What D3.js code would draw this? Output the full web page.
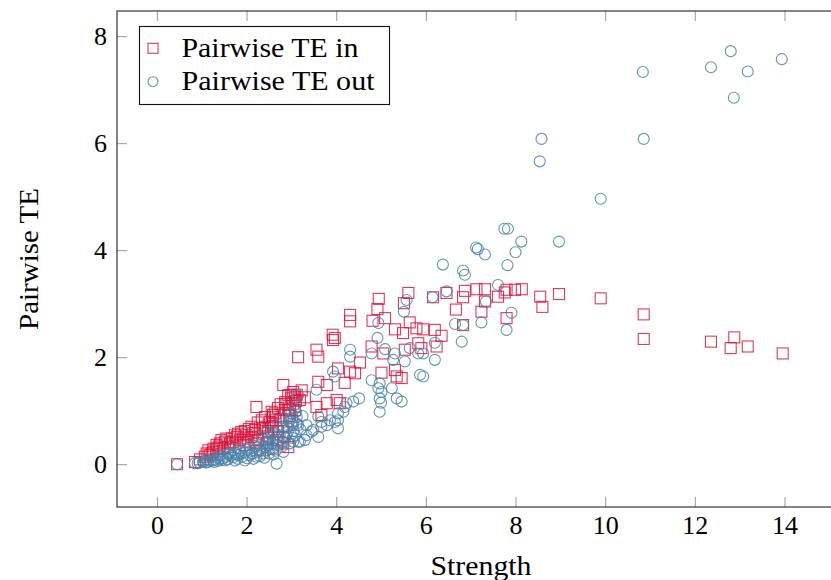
<!DOCTYPE html>
<html>
<head>
<meta charset="utf-8">
<script src="https://cdn.jsdelivr.net/npm/d3@7"></script>
<style>
  html, body { margin: 0; padding: 0; background: #fff; }
  svg { display: block; }
</style>
</head>
<body>
<div id="chart"></div>
<script>
// values: [strength, pairwise TE]
const teIn = [
  [0.45,0.00],[0.85,0.04],[0.96,0.09],[1.07,0.14],[1.11,0.20],[1.18,0.17],[1.25,0.23],[1.26,0.29],
  [1.33,0.29],[1.33,0.36],[1.41,0.39],[1.44,0.45],[1.52,0.42],[1.59,0.32],[1.63,0.39],[1.67,0.48],
  [1.74,0.54],[1.78,0.51],[1.81,0.57],[1.85,0.45],[1.93,0.48],[2.00,0.54],[2.04,0.42],[2.11,0.51],
  [2.11,0.70],[2.19,0.64],[2.22,1.07],[2.26,0.45],[2.30,0.26],[2.30,0.67],[2.37,0.67],[2.41,0.70],
  [2.41,0.88],[2.45,0.39],[2.52,0.79],[2.56,0.76],[2.56,0.98],[2.59,0.29],[2.59,0.70],[2.59,0.88],
  [2.59,0.92],[2.63,0.95],[2.67,0.45],[2.74,0.82],[2.82,0.39],[2.82,0.51],[2.82,0.70],[2.82,1.48],
  [2.86,1.01],[2.86,1.16],[2.89,1.13],[2.93,0.32],[2.93,1.04],[2.93,1.29],[2.97,1.01],[3.00,1.23],
  [3.00,1.29],[3.04,1.13],[3.04,1.35],[3.08,1.01],[3.08,1.26],[3.19,1.20],[3.23,1.38],[3.15,2.00],
  [3.30,1.25],[3.56,1.07],[3.56,2.14],[3.60,1.54],[3.60,2.01],[3.67,0.92],[3.79,1.14],[3.79,1.48],
  [3.92,2.42],[3.93,2.32],[3.97,2.36],[4.01,1.20],[4.04,1.79],[4.08,1.14],[4.19,1.52],[4.31,1.73],
  [4.31,2.67],[4.31,2.79],[4.42,1.70],[4.53,1.90],[4.79,2.20],[4.81,2.68],[4.92,2.90],[4.95,3.09],
  [5.01,1.71],[5.05,2.07],[5.09,2.73],[5.31,1.76],[5.31,2.52],[5.35,1.64],[5.46,1.61],[5.49,2.45],
  [5.51,3.01],[5.53,2.14],[5.61,3.20],[5.64,2.65],[5.79,2.54],[5.83,2.26],[5.90,2.17],[5.94,2.52],
  [6.16,3.12],[6.20,2.51],[6.24,2.20],[6.35,2.40],[6.46,3.20],[6.67,2.89],[6.83,2.60],[6.83,3.12],
  [6.87,3.24],[7.13,3.27],[7.24,2.85],[7.32,3.04],[7.32,3.27],[7.61,3.13],[7.76,3.21],[7.80,2.73],
  [7.80,3.26],[7.99,3.26],[8.14,3.27],[8.55,3.13],[8.60,2.94],[8.97,3.18],[9.90,3.10],[10.86,2.80],
  [10.86,2.34],[12.36,2.29],[12.80,2.17],[12.88,2.37],[13.18,2.20],[13.96,2.07],
  [1.15,0.26],[1.22,0.20],[1.38,0.33],[1.48,0.30],[1.55,0.48],[1.70,0.42],[1.88,0.60],[1.96,0.62],
  [2.05,0.66],[2.15,0.58],[2.25,0.78],[2.34,0.82],[2.48,0.62],[2.65,0.82],[2.70,1.05],[2.76,1.12],
  [2.95,0.90],[3.02,0.80],[3.10,1.18],[3.12,1.30],[2.70,0.62],[2.48,0.52],[2.20,0.40],[1.98,0.36]
];
const teOut = [
  [0.45,0.00],[0.85,0.02],[0.91,0.02],[0.95,0.03],[1.03,0.04],[1.05,0.05],[1.10,0.03],[1.14,0.04],
  [1.20,0.06],[1.25,0.07],[1.30,0.08],[1.36,0.06],[1.35,0.12],[1.41,0.17],[1.45,0.08],[1.47,0.11],
  [1.52,0.07],[1.55,0.14],[1.58,0.09],[1.63,0.21],[1.65,0.16],[1.70,0.13],[1.74,0.07],[1.74,0.22],
  [1.75,0.19],[1.81,0.17],[1.85,0.30],[1.90,0.14],[1.95,0.22],[1.96,0.07],[2.01,0.11],[2.07,0.17],
  [2.07,0.32],[2.10,0.25],[2.15,0.10],[2.22,0.14],[2.23,0.22],[2.30,0.15],[2.30,0.36],[2.36,0.49],
  [2.37,0.20],[2.40,0.32],[2.45,0.26],[2.45,0.60],[2.50,0.20],[2.52,0.29],[2.52,0.45],[2.55,0.55],
  [2.57,0.39],[2.59,0.30],[2.60,0.45],[2.65,0.25],[2.67,0.01],[2.70,0.36],[2.70,0.46],[2.74,0.54],
  [2.81,0.41],[2.81,0.69],[2.82,0.23],[2.82,0.86],[2.89,0.54],[2.90,0.70],[2.92,0.60],[2.97,0.39],
  [2.97,0.86],[3.00,0.76],[3.03,0.49],[3.03,0.73],[3.04,0.42],[3.05,0.62],[3.08,0.54],[3.10,0.98],
  [3.12,0.76],[3.12,0.88],[3.15,0.42],[3.15,0.73],[3.15,1.29],[3.19,0.42],[3.34,0.54],[3.34,0.73],
  [3.45,0.61],[3.49,0.64],[3.56,1.39],[3.60,0.51],[3.60,0.89],[3.67,0.70],[3.67,0.79],[3.79,0.73],
  [3.86,0.82],[3.93,1.73],[3.97,0.79],[3.97,1.64],[4.04,0.67],[4.04,0.82],[4.04,0.95],[4.16,0.98],
  [4.19,1.07],[4.23,1.14],[4.31,2.01],[4.31,2.14],[4.38,1.17],[4.51,1.23],[4.79,1.57],[4.79,2.07],
  [4.92,2.36],[4.94,1.42],[4.94,2.64],[4.97,0.98],[4.97,1.23],[4.97,1.51],[5.00,1.15],[5.01,1.35],
  [5.09,2.15],[5.24,1.42],[5.27,1.95],[5.31,2.07],[5.35,1.23],[5.46,1.17],[5.51,2.85],[5.53,1.92],
  [5.57,3.07],[5.64,2.17],[5.83,2.07],[5.87,1.67],[5.94,1.64],[5.94,2.07],[6.15,3.12],[6.20,1.95],
  [6.20,2.27],[6.38,3.73],[6.46,3.23],[6.65,2.62],[6.80,2.29],[6.83,2.60],[6.83,3.62],[6.87,3.54],
  [7.12,4.05],[7.16,4.02],[7.24,2.65],[7.32,3.92],[7.34,3.04],[7.61,3.35],[7.75,4.40],[7.80,2.51],
  [7.82,3.72],[7.83,4.40],[7.91,2.83],[8.00,3.96],[8.13,4.16],[8.54,5.66],[8.58,6.08],[8.97,4.16],
  [9.90,4.96],[10.84,7.33],[10.86,6.08],[12.36,7.42],[12.80,7.72],[12.87,6.85],[13.18,7.34],[13.94,7.57],
  [1.12,0.08],[1.28,0.04],[1.40,0.10],[1.60,0.18],[1.80,0.10],[1.88,0.20],[2.00,0.28],[2.12,0.20],
  [2.18,0.34],[2.28,0.28],[2.42,0.42],[2.48,0.35],[2.62,0.60],[2.68,0.70],[2.78,0.32],[2.86,0.48],
  [2.95,0.80],[3.00,0.95],[3.08,1.05],[3.20,0.65],[3.25,0.90],[3.30,0.45],[2.40,0.12],[2.60,0.18]
];
const xTicks = [0, 2, 4, 6, 8, 10, 12, 14];
const yTicks = [0, 2, 4, 6, 8];
const seriesNames = ['Pairwise TE in', 'Pairwise TE out'];

const W = 831, H = 580;
const FONT = "'Times New Roman', 'Liberation Serif', 'DejaVu Serif', serif";
const RED = 'rgb(220,20,60)', BLUE = 'rgb(70,130,170)';
// plot box; right edge runs past the window, as in the reference
const pL = 117, pR = 845, pT = 11, pB = 507;

const x = d3.scaleLinear().domain([-0.89, 15.35]).range([pL, pR]);
const y = d3.scaleLinear().domain([-0.80, 8.47]).range([pB, pT]);

const svg = d3.select('#chart').append('svg').attr('width', W).attr('height', H)
  .style('font-family', FONT);

// ticks point inward on all four sides
const tickCol = '#999';
const styleTicks = g => { g.select('.domain').remove(); g.selectAll('line').attr('stroke', tickCol).attr('stroke-width', 1); };
const styleLabels = g => g.selectAll('text').style('font-family', FONT).attr('font-size', 26).attr('fill', '#000');
svg.append('g').attr('transform', `translate(0,${pB})`)
  .call(d3.axisBottom(x).tickValues(xTicks).tickSize(-10).tickPadding(9).tickFormat(d3.format('d')))
  .call(styleTicks).call(styleLabels);
svg.append('g').attr('transform', `translate(0,${pT})`)
  .call(d3.axisTop(x).tickValues(xTicks).tickSize(-10).tickFormat(''))
  .call(styleTicks);
svg.append('g').attr('transform', `translate(${pL},0)`)
  .call(d3.axisLeft(y).tickValues(yTicks).tickSize(-10).tickPadding(10).tickFormat(d3.format('d')))
  .call(styleTicks).call(styleLabels);
svg.append('g').attr('transform', `translate(${pR},0)`)
  .call(d3.axisRight(y).tickValues(yTicks).tickSize(-10).tickFormat(''))
  .call(styleTicks);

const plot = svg.append('g');
const s = 11;
plot.selectAll('rect.in').data(teIn).join('rect').attr('class', 'in')
  .attr('x', d => x(d[0]) - s / 2).attr('y', d => y(d[1]) - s / 2)
  .attr('width', s).attr('height', s)
  .attr('fill', 'none').attr('stroke', RED).attr('stroke-width', 1.1).attr('stroke-opacity', 0.85);
plot.selectAll('circle.out').data(teOut).join('circle').attr('class', 'out')
  .attr('cx', d => x(d[0])).attr('cy', d => y(d[1])).attr('r', s / 2)
  .attr('fill', 'none').attr('stroke', BLUE).attr('stroke-width', 1.1).attr('stroke-opacity', 0.85);

// frame
svg.append('rect').attr('x', pL).attr('y', pT).attr('width', pR - pL).attr('height', pB - pT)
  .attr('fill', 'none').attr('stroke', '#333').attr('stroke-width', 1.2);

// axis labels
svg.append('text').attr('x', (pL + pR) / 2).attr('y', 575).attr('text-anchor', 'middle')
  .style('font-family', FONT).attr('font-size', 27).attr('fill', '#000')
  .attr('textLength', 101).attr('lengthAdjust', 'spacingAndGlyphs').text('Strength');
svg.append('text').attr('transform', `translate(38,${(pT + pB) / 2}) rotate(-90)`).attr('text-anchor', 'middle')
  .style('font-family', FONT).attr('font-size', 27).attr('fill', '#000')
  .attr('textLength', 142).attr('lengthAdjust', 'spacingAndGlyphs').text('Pairwise TE');

// legend
const leg = svg.append('g');
leg.append('rect').attr('x', 139.5).attr('y', 26.5).attr('width', 250).attr('height', 78)
  .attr('fill', '#fff').attr('stroke', '#111').attr('stroke-width', 1.1);
const rowY = [48.3, 81.7], textW = [177, 193];
seriesNames.forEach((name, i) => {
  if (i === 0) {
    leg.append('rect').attr('x', 153 - s / 2 + 0.5).attr('y', rowY[i] - s / 2 + 0.5).attr('width', s - 1).attr('height', s - 1)
      .attr('fill', 'none').attr('stroke', RED).attr('stroke-width', 1.1).attr('stroke-opacity', 0.85);
  } else {
    leg.append('circle').attr('cx', 153).attr('cy', rowY[i]).attr('r', s / 2 - 0.5)
      .attr('fill', 'none').attr('stroke', BLUE).attr('stroke-width', 1.1).attr('stroke-opacity', 0.85);
  }
  leg.append('text').attr('x', 181.5).attr('y', rowY[i] + 8.5)
    .style('font-family', FONT).attr('font-size', 27).attr('fill', '#000')
    .attr('textLength', textW[i]).attr('lengthAdjust', 'spacingAndGlyphs').text(name);
});
</script>
</body>
</html>
